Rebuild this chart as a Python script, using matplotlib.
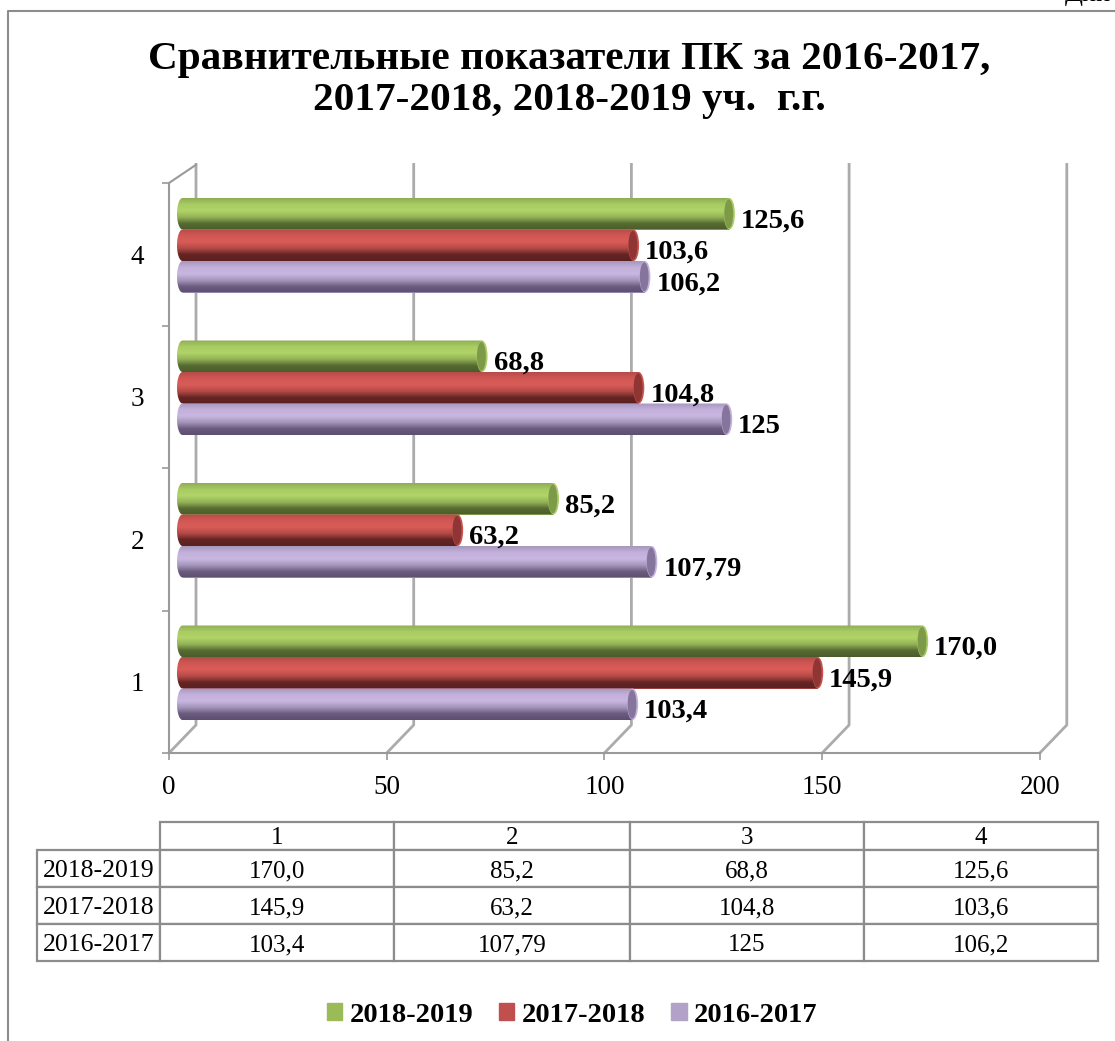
import numpy as np
import matplotlib
matplotlib.use("Agg")
import matplotlib.pyplot as plt
from matplotlib.colors import LinearSegmentedColormap
from matplotlib.patches import Ellipse, PathPatch, Patch
from matplotlib.path import Path
from matplotlib.table import Table

plt.rcParams['font.family'] = ['Liberation Serif', 'DejaVu Serif']

categories = ['1', '2', '3', '4']
series_names = ['2018-2019', '2017-2018', '2016-2017']
values_1819 = [170.0, 85.2, 68.8, 125.6]
values_1718 = [145.9, 63.2, 104.8, 103.6]
values_1617 = [103.4, 107.79, 125, 106.2]
labels_1819 = ['170,0', '85,2', '68,8', '125,6']
labels_1718 = ['145,9', '63,2', '104,8', '103,6']
labels_1617 = ['103,4', '107,79', '125', '106,2']
x_ticks = [0, 50, 100, 150, 200]
title_text = 'Сравнительные показатели ПК за 2016-2017,\n2017-2018, 2018-2019 уч.  г.г.'

W, H = 1115, 1041
GRID = '#ababab'
AXIS = '#9a9a9a'
BORDER = '#8c8c8c'

# px sizes of the fake 3D box
PX_PER_X = 4.354
PX_PER_Y = 142.5
DEPTH_X = 27 / PX_PER_X
DEPTH_Y = 28 / PX_PER_Y
BAR_X = 13.5 / PX_PER_X
BAR_Y = 9 / PX_PER_Y
BAR_H = 31.5 / PX_PER_Y
CAP_W = 5.5 / PX_PER_X


def draw_cylinder(ax, y, value, stops, cap_color):
    left = BAR_X
    right = BAR_X + value
    bottom = y - BAR_H / 2
    top = y + BAR_H / 2
    ax.barh(y, value, height=BAR_H, left=left, color=stops[2], zorder=3)

    # left rounded end + body, used as the clip for the gradient
    t = np.linspace(np.pi / 2, 3 * np.pi / 2, 30)
    xs = left + CAP_W * np.cos(t)
    ys = y + BAR_H / 2 * np.sin(t)
    verts = list(zip(xs, ys)) + [(right, bottom), (right, top), (xs[0], ys[0])]
    clip = PathPatch(Path(verts), transform=ax.transData, fc='none', ec='none')
    ax.add_patch(clip)
    cmap = LinearSegmentedColormap.from_list('c', stops)
    grad = np.linspace(0, 1, 64).reshape(-1, 1)
    im = ax.imshow(grad, cmap=cmap, aspect='auto', origin='upper',
                   extent=[left - CAP_W, right, bottom, top], zorder=4)
    im.set_clip_path(clip)

    # right end of the cylinder: light rim with a darker face
    ax.add_patch(Ellipse((right, y), 2 * CAP_W, BAR_H, fc=cap_color[1], ec='none', zorder=5))
    ax.add_patch(Ellipse((right - CAP_W * 0.12, y), 1.6 * CAP_W, BAR_H * 0.92, fc=cap_color[0], ec='none', zorder=6))


fig = plt.figure(figsize=(W / 100, H / 100), dpi=100)

# outer frame of the chart, cut by the picture edge
bg = fig.add_axes([0, 0, 1, 1])
bg.set_xlim(0, W)
bg.set_ylim(H, 0)
bg.axis('off')
bg.plot([8, 8, W], [H, 11, 11], color=BORDER, lw=1.5)
bg.text(1065, -5, 'Дин', fontsize=19, ha='left', va='center', clip_on=False)
bg.text(569.5, 80, title_text, fontsize=29.7, fontweight='bold', ha='center', va='center', linespacing=1.17)

# plot box: 0..200 is 169..1040 px, 0..4 is 753..183 px
x0, y0 = 169, 753
ax_w = 900
ax_h = 590
ax = fig.add_axes([x0 / W, 1 - y0 / H, ax_w / W, ax_h / H])
xlim = (0, ax_w / PX_PER_X)
ylim = (0, ax_h / PX_PER_Y)
ax.patch.set_alpha(0)

for t in x_ticks:
    ax.plot([t, t + DEPTH_X, t + DEPTH_X], [0, DEPTH_Y, ylim[1] - 0.01], color=GRID, lw=2, zorder=1, clip_on=False)
ax.plot([0, DEPTH_X], [4, 4 + DEPTH_Y * 0.65], color=AXIS, lw=1.5, zorder=1)

green = ['#8fae55', '#a9cc63', '#b0d468', '#93b257', '#566c32', '#4a5c2b']
red = ['#b54c49', '#d25754', '#d95c58', '#b54a47', '#642523', '#5a2120']
purple = ['#a797bd', '#c3b1dc', '#c9b7e1', '#a596bb', '#6b5c80', '#5c4f70']
caps = [('#7d9a48', '#a9cc63'), ('#8f3533', '#c8524f'), ('#85759c', '#c3b1dc')]

all_values = [values_1819, values_1718, values_1617]
all_labels = [labels_1819, labels_1718, labels_1617]
all_stops = [green, red, purple]
offsets = [1, 0, -1]

for vals, labs, stops, cap, off in zip(all_values, all_labels, all_stops, caps, offsets):
    for i, (v, lab) in enumerate(zip(vals, labs)):
        y = i + 0.5 + BAR_Y + off * BAR_H
        draw_cylinder(ax, y, v, stops, cap)
        ax.annotate(lab, (BAR_X + v + CAP_W, y), xytext=(6, -7), textcoords='offset pixels',
                    fontsize=20.5, fontweight='bold', ha='left', va='center', zorder=8)

ax.set_xlim(xlim)
ax.set_ylim(ylim)
for name in ['top', 'right']:
    ax.spines[name].set_visible(False)
ax.spines['left'].set_bounds(0, 4)
ax.spines['bottom'].set_bounds(0, 200)
ax.spines['left'].set_color(AXIS)
ax.spines['bottom'].set_color(AXIS)
ax.spines['left'].set_linewidth(1.5)
ax.spines['bottom'].set_linewidth(1.5)
ax.set_xticks(x_ticks)
ax.set_yticks(range(5))
ax.set_yticklabels([])
ax.set_yticks(np.arange(4) + 0.5, labels=categories, minor=True)
ax.tick_params(axis='x', length=5, color=AXIS, width=1.2, labelsize=19.5, pad=11)
ax.tick_params(axis='y', which='major', length=5, color=AXIS, width=1.2)
ax.tick_params(axis='y', which='minor', length=0, labelsize=19.5, pad=18)

# data table under the chart
tax = fig.add_axes([37 / W, 1 - 961 / H, (1098 - 37) / W, (961 - 822) / H])
tax.axis('off')
tbl = Table(tax, bbox=[0, 0, 1, 1])
tbl.auto_set_font_size(False)
col_w = [123, 234.5, 235.5, 234.5, 234]
head_h, row_h = 28, 37
for c, cat in enumerate(categories):
    tbl.add_cell(0, c + 1, col_w[c + 1], head_h, text=cat, loc='center')
for r, (name, labs) in enumerate(zip(series_names, all_labels)):
    tbl.add_cell(r + 1, 0, col_w[0], row_h, text=name, loc='center')
    for c, lab in enumerate(labs):
        tbl.add_cell(r + 1, c + 1, col_w[c + 1], row_h, text=lab, loc='center')
for (row, col), cell in tbl.get_celld().items():
    cell.set_edgecolor(BORDER)
    cell.set_linewidth(1.6)
    cell.set_fontsize(18.5 if col == 0 else 18)
    cell.PAD = 0.02
    cell.get_text().set_verticalalignment('center_baseline')
tax.add_table(tbl)

handles = [Patch(color=c) for c in ['#9bbb59', '#c0504d', '#b3a2c7']]
fig.legend(handles, series_names, loc='center', bbox_to_anchor=(572 / W, 1 - 1015 / H), ncol=3,
           frameon=False, prop={'size': 20.5, 'weight': 'bold'}, handlelength=0.55, handleheight=0.55,
           handletextpad=0.25, columnspacing=0.9)

fig.savefig('out.png', dpi=100)
